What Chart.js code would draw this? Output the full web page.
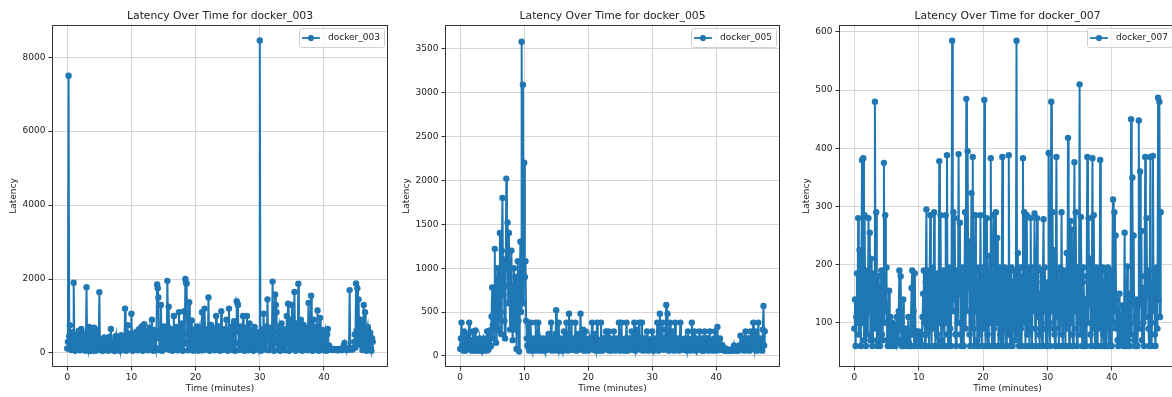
<!DOCTYPE html>
<html>
<head>
<meta charset="utf-8">
<script src="https://cdn.jsdelivr.net/npm/chart.js@4.4.1/dist/chart.umd.min.js"></script>
<style>
  html, body { margin: 0; padding: 0; background: #fff; }
  body { width: 1172px; height: 397px; overflow: hidden; position: relative; }
  canvas { position: absolute; top: 0; }
</style>
</head>
<body>
<canvas id="c003" width="392" height="397" style="left:0px"></canvas>
<canvas id="c005" width="392" height="397" style="left:392px"></canvas>
<canvas id="c007" width="388" height="397" style="left:792px"></canvas>
<script>
// time axis (minutes), one sample every 6 s
const minutes = [
  0, 0.1, 0.2, 0.3, 0.4, 0.5, 0.6, 0.7, 0.8, 0.9, 1, 1.1, 1.2, 1.3, 1.4, 1.5, 1.6, 1.7, 1.8, 1.9,
  2, 2.1, 2.2, 2.3, 2.4, 2.5, 2.6, 2.7, 2.8, 2.9, 3, 3.1, 3.2, 3.3, 3.4, 3.5, 3.6, 3.7, 3.8, 3.9,
  4, 4.1, 4.2, 4.3, 4.4, 4.5, 4.6, 4.7, 4.8, 4.9, 5, 5.1, 5.2, 5.3, 5.4, 5.5, 5.6, 5.7, 5.8, 5.9,
  6, 6.1, 6.2, 6.3, 6.4, 6.5, 6.6, 6.7, 6.8, 6.9, 7, 7.1, 7.2, 7.3, 7.4, 7.5, 7.6, 7.7, 7.8, 7.9,
  8, 8.1, 8.2, 8.3, 8.4, 8.5, 8.6, 8.7, 8.8, 8.9, 9, 9.1, 9.2, 9.3, 9.4, 9.5, 9.6, 9.7, 9.8, 9.9,
  10, 10.1, 10.2, 10.3, 10.4, 10.5, 10.6, 10.7, 10.8, 10.9, 11, 11.1, 11.2, 11.3, 11.4, 11.5, 11.6, 11.7, 11.8, 11.9,
  12, 12.1, 12.2, 12.3, 12.4, 12.5, 12.6, 12.7, 12.8, 12.9, 13, 13.1, 13.2, 13.3, 13.4, 13.5, 13.6, 13.7, 13.8, 13.9,
  14, 14.1, 14.2, 14.3, 14.4, 14.5, 14.6, 14.7, 14.8, 14.9, 15, 15.1, 15.2, 15.3, 15.4, 15.5, 15.6, 15.7, 15.8, 15.9,
  16, 16.1, 16.2, 16.3, 16.4, 16.5, 16.6, 16.7, 16.8, 16.9, 17, 17.1, 17.2, 17.3, 17.4, 17.5, 17.6, 17.7, 17.8, 17.9,
  18, 18.1, 18.2, 18.3, 18.4, 18.5, 18.6, 18.7, 18.8, 18.9, 19, 19.1, 19.2, 19.3, 19.4, 19.5, 19.6, 19.7, 19.8, 19.9,
  20, 20.1, 20.2, 20.3, 20.4, 20.5, 20.6, 20.7, 20.8, 20.9, 21, 21.1, 21.2, 21.3, 21.4, 21.5, 21.6, 21.7, 21.8, 21.9,
  22, 22.1, 22.2, 22.3, 22.4, 22.5, 22.6, 22.7, 22.8, 22.9, 23, 23.1, 23.2, 23.3, 23.4, 23.5, 23.6, 23.7, 23.8, 23.9,
  24, 24.1, 24.2, 24.3, 24.4, 24.5, 24.6, 24.7, 24.8, 24.9, 25, 25.1, 25.2, 25.3, 25.4, 25.5, 25.6, 25.7, 25.8, 25.9,
  26, 26.1, 26.2, 26.3, 26.4, 26.5, 26.6, 26.7, 26.8, 26.9, 27, 27.1, 27.2, 27.3, 27.4, 27.5, 27.6, 27.7, 27.8, 27.9,
  28, 28.1, 28.2, 28.3, 28.4, 28.5, 28.6, 28.7, 28.8, 28.9, 29, 29.1, 29.2, 29.3, 29.4, 29.5, 29.6, 29.7, 29.8, 29.9,
  30, 30.1, 30.2, 30.3, 30.4, 30.5, 30.6, 30.7, 30.8, 30.9, 31, 31.1, 31.2, 31.3, 31.4, 31.5, 31.6, 31.7, 31.8, 31.9,
  32, 32.1, 32.2, 32.3, 32.4, 32.5, 32.6, 32.7, 32.8, 32.9, 33, 33.1, 33.2, 33.3, 33.4, 33.5, 33.6, 33.7, 33.8, 33.9,
  34, 34.1, 34.2, 34.3, 34.4, 34.5, 34.6, 34.7, 34.8, 34.9, 35, 35.1, 35.2, 35.3, 35.4, 35.5, 35.6, 35.7, 35.8, 35.9,
  36, 36.1, 36.2, 36.3, 36.4, 36.5, 36.6, 36.7, 36.8, 36.9, 37, 37.1, 37.2, 37.3, 37.4, 37.5, 37.6, 37.7, 37.8, 37.9,
  38, 38.1, 38.2, 38.3, 38.4, 38.5, 38.6, 38.7, 38.8, 38.9, 39, 39.1, 39.2, 39.3, 39.4, 39.5, 39.6, 39.7, 39.8, 39.9,
  40, 40.1, 40.2, 40.3, 40.4, 40.5, 40.6, 40.7, 40.8, 40.9, 41, 41.1, 41.2, 41.3, 41.4, 41.5, 41.6, 41.7, 41.8, 41.9,
  42, 42.1, 42.2, 42.3, 42.4, 42.5, 42.6, 42.7, 42.8, 42.9, 43, 43.1, 43.2, 43.3, 43.4, 43.5, 43.6, 43.7, 43.8, 43.9,
  44, 44.1, 44.2, 44.3, 44.4, 44.5, 44.6, 44.7, 44.8, 44.9, 45, 45.1, 45.2, 45.3, 45.4, 45.5, 45.6, 45.7, 45.8, 45.9,
  46, 46.1, 46.2, 46.3, 46.4, 46.5, 46.6, 46.7, 46.8, 46.9, 47, 47.1, 47.2, 47.3, 47.4, 47.5, 47.6
];

const latency003 = [
  120, 300, 7500, 450, 750, 200, 80, 350, 560, 150, 1900, 420, 60, 250, 480, 130, 90, 520, 600, 180,
  70, 400, 650, 220, 110, 480, 520, 90, 60, 300, 1780, 150, 80, 450, 700, 260, 50, 380, 580, 140,
  90, 350, 680, 200, 60, 480, 620, 150, 120, 300, 1640, 110, 70, 250, 380, 90, 60, 280, 420, 100,
  110, 220, 350, 90, 60, 300, 440, 150, 650, 200, 80, 260, 300, 70, 50, 350, 460, 120, 90, 280,
  420, 130, 60, 320, 480, 80, 100, 260, 350, 150, 1200, 400, 60, 300, 750, 110, 90, 380, 520, 200,
  1060, 250, 60, 420, 380, 150, 110, 560, 520, 200, 70, 450, 640, 130, 90, 500, 720, 240, 60, 380,
  780, 300, 100, 450, 560, 180, 70, 600, 680, 250, 120, 520, 900, 330, 60, 480, 620, 150, 80, 550,
  1850, 1750, 1500, 400, 70, 600, 1300, 200, 60, 480, 720, 300, 110, 550, 650, 180, 1950, 700, 1250, 350,
  80, 500, 640, 220, 60, 580, 1000, 300, 110, 450, 700, 160, 70, 620, 1100, 350, 90, 520, 800, 200,
  60, 480, 1130, 300, 2000, 1900, 1880, 250, 70, 560, 1370, 400, 90, 600, 880, 180, 60, 520, 620, 230,
  100, 550, 720, 250, 60, 600, 680, 180, 120, 500, 1100, 350, 70, 650, 1200, 300, 90, 480, 640, 150,
  1500, 400, 60, 550, 760, 200, 110, 620, 660, 280, 70, 500, 1000, 350, 90, 580, 720, 220, 60, 480,
  1130, 300, 80, 560, 640, 200, 110, 620, 900, 350, 60, 480, 1200, 280, 90, 600, 700, 180, 70, 520,
  860, 300, 60, 600, 1400, 1350, 1300, 250, 80, 560, 720, 200, 110, 640, 1000, 380, 60, 520, 680, 220,
  1000, 350, 70, 580, 800, 250, 90, 500, 620, 180, 60, 540, 700, 300, 110, 450, 560, 150, 80, 420,
  8450, 250, 60, 500, 640, 300, 1060, 200, 90, 580, 720, 350, 1450, 400, 70, 560, 680, 220, 110, 620,
  1930, 400, 60, 550, 1580, 1300, 1100, 250, 80, 600, 700, 180, 60, 520, 800, 300, 90, 480, 640, 200,
  70, 600, 1000, 350, 1330, 250, 60, 500, 900, 200, 1300, 450, 110, 580, 1650, 300, 60, 520, 800, 180,
  1870, 400, 90, 560, 900, 250, 60, 600, 760, 200, 110, 520, 680, 300, 70, 580, 1350, 350, 90, 480,
  1550, 300, 60, 560, 900, 220, 80, 600, 700, 350, 1150, 250, 60, 540, 950, 280, 90, 500, 620, 180,
  70, 450, 560, 200, 60, 500, 650, 150, 200, 100, 120, 90, 100, 80, 90, 110, 110, 90, 80, 100,
  100, 80, 70, 90, 90, 100, 110, 80, 80, 100, 120, 200, 270, 150, 90, 100, 80, 90, 100, 110,
  1700, 120, 110, 90, 90, 120, 120, 300, 500, 150, 1880, 600, 1750, 250, 1450, 400, 300, 650, 900, 200,
  80, 500, 1300, 300, 1100, 200, 60, 600, 700, 250, 80, 450, 550, 150, 60, 400, 300
];

const latency005 = [
  80, 200, 380, 120, 150, 60, 280, 160, 60, 120, 200, 80, 90, 250, 380, 140, 70, 100, 180, 60,
  280, 120, 60, 180, 290, 90, 120, 60, 70, 150, 200, 80, 60, 120, 150, 60, 90, 200, 180, 70,
  60, 150, 280, 90, 70, 200, 290, 120, 110, 450, 780, 350, 200, 600, 1220, 400, 150, 700, 1000, 300,
  300, 900, 1400, 500, 250, 1200, 1800, 700, 1100, 400, 200, 800, 2020, 1000, 1520, 600, 1400, 900, 300, 700,
  1200, 500, 180, 800, 1000, 300, 700, 900, 80, 600, 1080, 400, 50, 800, 1300, 500, 3580, 1000, 3090, 600,
  2200, 900, 1080, 400, 200, 120, 380, 90, 60, 200, 380, 130, 100, 60, 200, 90, 70, 150, 380, 100,
  60, 180, 380, 120, 90, 200, 150, 60, 70, 120, 200, 90, 60, 150, 180, 70, 100, 200, 250, 80,
  70, 150, 380, 100, 60, 180, 200, 90, 90, 250, 520, 120, 60, 200, 380, 80, 120, 60, 200, 100,
  60, 180, 280, 90, 90, 200, 380, 120, 60, 250, 480, 100, 100, 150, 380, 70, 70, 180, 200, 90,
  380, 120, 60, 180, 250, 80, 90, 200, 480, 130, 70, 160, 300, 90, 60, 150, 280, 70, 100, 190,
  60, 150, 200, 80, 100, 190, 380, 120, 70, 160, 250, 90, 60, 200, 380, 110, 90, 60, 180, 130,
  380, 120, 60, 170, 200, 80, 100, 190, 280, 90, 70, 150, 280, 110, 60, 200, 180, 70, 90, 160,
  280, 100, 60, 190, 200, 80, 90, 150, 380, 120, 60, 200, 380, 90, 100, 160, 180, 60, 70, 200,
  380, 130, 60, 180, 200, 90, 90, 160, 280, 70, 70, 200, 380, 100, 60, 150, 300, 80, 100, 190,
  380, 110, 70, 200, 380, 90, 60, 170, 200, 80, 90, 150, 280, 120, 60, 190, 180, 70, 100, 160,
  280, 90, 60, 180, 200, 100, 90, 160, 380, 70, 60, 200, 480, 120, 100, 190, 380, 80, 70, 150,
  200, 300, 580, 200, 480, 120, 60, 180, 380, 90, 100, 200, 280, 70, 60, 160, 380, 110, 90, 190,
  200, 80, 60, 170, 380, 120, 100, 190, 180, 70, 70, 150, 200, 90, 60, 200, 280, 110, 100, 160,
  60, 190, 380, 100, 90, 160, 280, 80, 60, 200, 180, 70, 100, 150, 280, 90, 70, 180, 200, 60,
  60, 170, 280, 90, 90, 200, 200, 70, 60, 190, 280, 110, 100, 160, 180, 60, 70, 200, 280, 90,
  60, 180, 330, 100, 80, 150, 200, 70, 70, 110, 120, 80, 90, 60, 60, 70, 80, 60, 70, 65,
  60, 65, 70, 60, 60, 70, 80, 65, 120, 70, 70, 60, 60, 80, 90, 60, 70, 120, 230, 90,
  80, 120, 150, 70, 60, 200, 280, 90, 100, 180, 200, 70, 60, 160, 280, 100, 90, 200, 380, 120,
  70, 180, 280, 90, 60, 200, 380, 100, 90, 150, 200, 70, 60, 300, 570, 120, 280
];

const latency007 = [
  90, 140, 60, 110, 185, 100, 280, 80, 225, 150, 60, 190, 380, 100, 383, 70, 285, 120, 60, 180,
  190, 80, 280, 120, 255, 70, 210, 150, 60, 110, 185, 90, 480, 130, 290, 70, 60, 160, 180, 90,
  60, 140, 190, 80, 70, 180, 375, 100, 285, 120, 195, 70, 60, 100, 155, 80, 110, 70, 60, 90,
  100, 70, 80, 95, 60, 75, 110, 65, 70, 120, 190, 90, 180, 70, 60, 85, 140, 60, 90, 70,
  70, 90, 60, 75, 110, 65, 85, 60, 60, 160, 190, 80, 120, 60, 185, 85, 85, 70, 60, 80,
  85, 75, 70, 65, 60, 80, 110, 150, 190, 100, 60, 170, 295, 80, 190, 120, 60, 180, 285, 100,
  60, 150, 195, 90, 290, 120, 60, 170, 185, 80, 60, 140, 378, 100, 285, 70, 60, 160, 190, 110,
  60, 180, 285, 100, 388, 80, 60, 150, 195, 90, 60, 170, 585, 120, 290, 140, 280, 80, 60, 190,
  190, 100, 390, 150, 272, 80, 60, 170, 195, 110, 60, 140, 290, 90, 485, 120, 395, 160, 240, 80,
  60, 180, 323, 100, 385, 90, 60, 150, 285, 120, 190, 70, 60, 170, 195, 80, 285, 110, 60, 160,
  195, 90, 483, 130, 60, 170, 280, 80, 60, 150, 215, 100, 383, 120, 60, 180, 285, 90, 60, 140,
  290, 100, 246, 160, 60, 120, 195, 80, 60, 170, 385, 90, 60, 150, 195, 110, 60, 180, 190, 80,
  388, 120, 60, 160, 195, 90, 60, 170, 190, 100, 70, 140, 585, 80, 220, 150, 60, 180, 195, 90,
  60, 170, 383, 100, 290, 130, 60, 160, 285, 80, 195, 110, 60, 180, 280, 90, 60, 150, 195, 120,
  288, 90, 60, 170, 280, 110, 195, 80, 60, 150, 190, 100, 60, 180, 278, 120, 195, 90, 60, 160,
  60, 170, 392, 100, 60, 150, 480, 120, 290, 90, 225, 80, 60, 180, 385, 110, 190, 90, 60, 160,
  195, 100, 290, 80, 60, 170, 190, 120, 60, 150, 220, 90, 418, 110, 60, 180, 275, 100, 260, 80,
  60, 160, 376, 120, 290, 90, 60, 180, 195, 100, 510, 80, 282, 150, 60, 170, 195, 110, 60, 140,
  60, 180, 385, 100, 280, 130, 210, 80, 60, 160, 383, 90, 285, 120, 60, 170, 195, 100, 60, 150,
  190, 90, 380, 120, 60, 170, 195, 80, 60, 160, 190, 100, 60, 180, 195, 110, 60, 150, 190, 90,
  60, 180, 312, 100, 290, 120, 250, 90, 140, 70, 60, 110, 150, 80, 70, 100, 130, 65, 60, 90,
  255, 80, 60, 110, 197, 70, 150, 60, 60, 100, 450, 80, 350, 130, 250, 70, 60, 110, 140, 60,
  60, 130, 448, 90, 360, 140, 258, 70, 160, 100, 60, 180, 385, 110, 280, 150, 190, 90, 60, 170,
  385, 100, 60, 160, 387, 120, 190, 80, 60, 170, 195, 90, 487, 140, 480, 110, 290
];

const xTicks = [0, 10, 20, 30, 40];
const yTicks003 = [0, 2000, 4000, 6000, 8000];
const yTicks005 = [0, 500, 1000, 1500, 2000, 2500, 3000, 3500];
const yTicks007 = [100, 200, 300, 400, 500, 600];

const BLUE = '#1f77b4';
const FONT = "'DejaVu Sans', sans-serif";
const TEXT = '#222';

// spines, title over the plot area, and a matplotlib-like legend box
const mplDecor = {
  id: 'mplDecor',
  afterDatasetsDraw(chart) {
    const { ctx, chartArea: a } = chart;
    ctx.save();
    ctx.strokeStyle = '#333';
    ctx.lineWidth = 1;
    ctx.strokeRect(Math.round(a.left) + 0.5, Math.round(a.top) + 0.5,
      Math.round(a.right - a.left) - 1, Math.round(a.bottom - a.top) - 1);
    ctx.restore();
  },
  afterDraw(chart) {
    const { ctx, chartArea: a } = chart;
    const label = chart.data.datasets[0].label;
    ctx.save();
    ctx.fillStyle = TEXT;
    ctx.font = '10.8px ' + FONT;
    ctx.textAlign = 'center';
    ctx.textBaseline = 'middle';
    ctx.fillText('Latency Over Time for ' + label, (a.left + a.right) / 2, 16.5);

    const w = 85, h = 19;
    const x0 = a.right - 4 - w, y0 = a.top + 3;
    ctx.beginPath();
    ctx.roundRect(x0 + 0.5, y0 + 0.5, w, h, 2);
    ctx.fillStyle = 'rgba(255,255,255,0.8)';
    ctx.fill();
    ctx.strokeStyle = '#d0d0d0';
    ctx.lineWidth = 1;
    ctx.stroke();
    const cy = y0 + h / 2 + 0.5;
    ctx.strokeStyle = BLUE;
    ctx.lineWidth = 1.8;
    ctx.beginPath();
    ctx.moveTo(x0 + 3, cy);
    ctx.lineTo(x0 + 21, cy);
    ctx.stroke();
    ctx.fillStyle = BLUE;
    ctx.beginPath();
    ctx.arc(x0 + 12, cy, 3.1, 0, Math.PI * 2);
    ctx.fill();
    ctx.fillStyle = TEXT;
    ctx.font = '9px ' + FONT;
    ctx.textAlign = 'left';
    ctx.fillText(label, x0 + 29, cy);
    ctx.restore();
  }
};

function makeChart(id, label, values, yMin, yMax, yTicks, yAxisWidth, yTitlePad, padRight) {
  const grid = { color: '#d6d6d6', lineWidth: 1, tickLength: 3.5, tickColor: '#333', drawTicks: true };
  const tickFont = { family: FONT, size: 9 };
  new Chart(document.getElementById(id), {
    type: 'line',
    data: {
      datasets: [{
        label,
        data: minutes.map((t, i) => ({ x: t, y: values[i] })),
        borderColor: BLUE,
        backgroundColor: BLUE,
        borderWidth: 2,
        pointRadius: 3.2,
        pointBorderWidth: 0,
        pointBackgroundColor: BLUE,
        tension: 0,
        fill: false
      }]
    },
    options: {
      responsive: false,
      animation: false,
      devicePixelRatio: 1,
      layout: { padding: { top: 25, left: 0, right: padRight, bottom: 0 } },
      plugins: { legend: { display: false }, title: { display: false }, tooltip: { enabled: false } },
      scales: {
        x: {
          type: 'linear',
          min: -2.38,
          max: 49.98,
          grid,
          border: { display: false },
          afterBuildTicks(s) { s.ticks = xTicks.map(v => ({ value: v })); },
          ticks: { color: TEXT, font: tickFont, padding: 1.5, maxRotation: 0, autoSkip: false,
            callback: v => String(v) },
          title: { display: true, text: 'Time (minutes)', color: TEXT, font: tickFont, padding: { top: 0, bottom: 2.6 } },
          afterFit(s) { s.height = 30; }
        },
        y: {
          type: 'linear',
          min: yMin,
          max: yMax,
          grid,
          border: { display: false },
          afterBuildTicks(s) { s.ticks = yTicks.map(v => ({ value: v })); },
          ticks: { color: TEXT, font: tickFont, padding: 3, autoSkip: false,
            callback: v => String(v) },
          title: { display: true, text: 'Latency', color: TEXT, font: tickFont, padding: { top: yTitlePad, bottom: 0 } },
          afterFit(s) { s.width = yAxisWidth; }
        }
      }
    },
    plugins: [mplDecor]
  });
}

makeChart('c003', 'docker_003', latency003, -380, 8870, yTicks003, 52, 8.6, 4);
makeChart('c005', 'docker_005', latency005, -126, 3770, yTicks005, 53, 9.6, 3);
makeChart('c007', 'docker_007', latency007, 24, 612, yTicks007, 47, 9.6, 4);
</script>
</body>
</html>
